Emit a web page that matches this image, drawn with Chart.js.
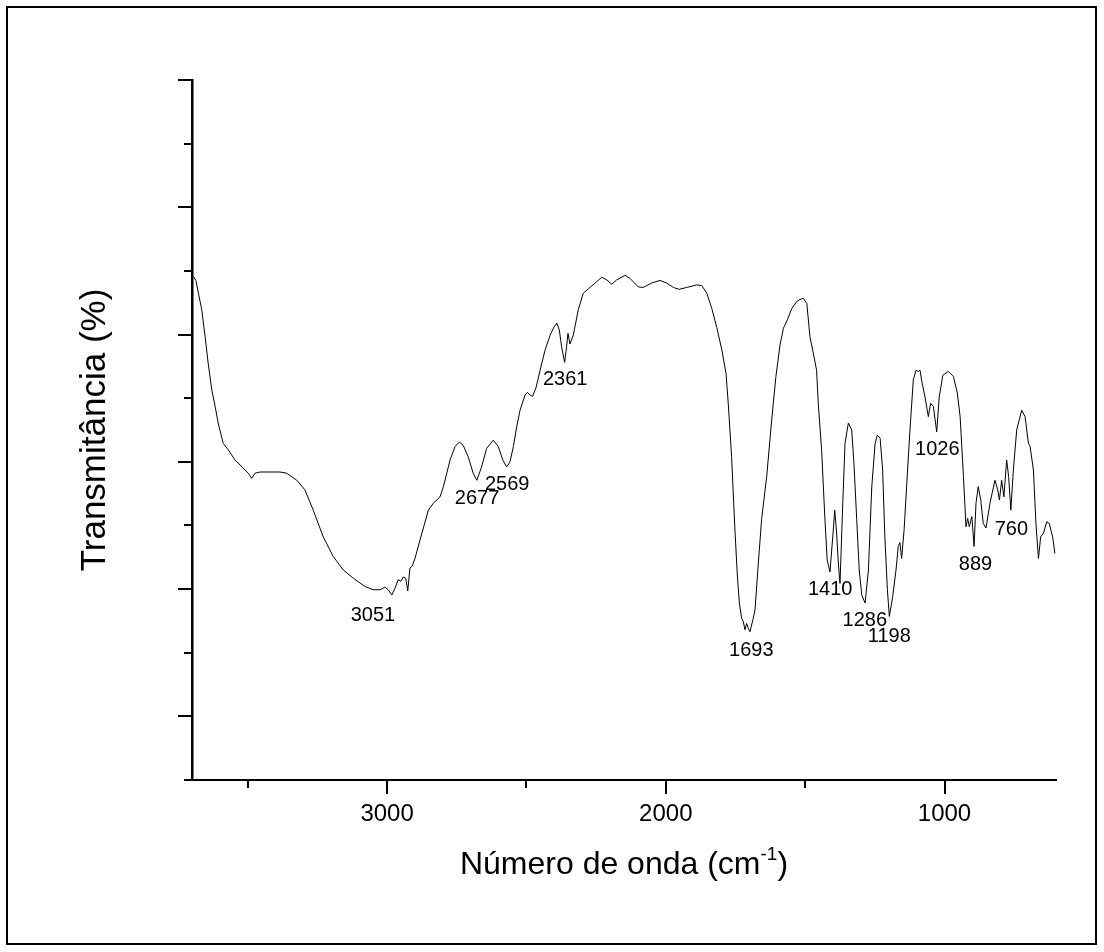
<!DOCTYPE html>
<html>
<head>
<meta charset="utf-8">
<script src="https://cdn.jsdelivr.net/npm/chart.js@4/dist/chart.umd.min.js"></script>
<style>
  html, body { margin: 0; padding: 0; background: #ffffff; }
  canvas { display: block; }
</style>
</head>
<body>
<canvas id="ftir" width="1104" height="952"></canvas>
<script>
// FTIR spectrum: wavenumber (cm-1) and transmittance
const wavenumber = [
  3695, 3686, 3677, 3665, 3653, 3642, 3629, 3617, 3606, 3588, 3570, 3546, 3516, 3498, 3486,
  3474, 3456, 3384, 3360, 3324, 3295, 3265, 3229, 3193, 3157, 3121, 3079, 3050, 3025, 3008,
  2996, 2983, 2972, 2960, 2951, 2942, 2933, 2926, 2918, 2910, 2900, 2882, 2852, 2834, 2810,
  2798, 2774, 2756, 2741, 2727, 2709, 2691, 2678, 2661, 2643, 2619, 2601, 2585, 2571, 2559,
  2547, 2535, 2523, 2505, 2497, 2487, 2478, 2466, 2451, 2433, 2415, 2401, 2391, 2382, 2374,
  2363, 2356, 2351, 2344, 2332, 2314, 2296, 2272, 2248, 2230, 2212, 2194, 2176, 2146, 2128,
  2099, 2081, 2051, 2021, 1997, 1973, 1952, 1925, 1889, 1871,
  1853, 1835, 1817, 1799, 1784, 1776, 1764, 1752, 1743, 1736, 1728, 1722, 1716, 1710, 1704,
  1698, 1688, 1680, 1668, 1656, 1638, 1620, 1605, 1590, 1578, 1564, 1548, 1530, 1519, 1507,
  1494, 1483, 1471, 1459, 1453, 1441, 1429, 1421, 1411, 1401, 1394, 1387, 1381, 1375, 1365,
  1357, 1345, 1333, 1325, 1315, 1306, 1297, 1285, 1273, 1261, 1249, 1241, 1231, 1222, 1214,
  1205, 1198, 1186, 1174, 1166, 1160, 1154, 1145, 1136, 1124, 1112, 1102, 1094, 1088, 1080,
  1070, 1058, 1050, 1040, 1028, 1019, 1006, 986, 968, 954, 944, 932, 923, 917, 911,
  902, 894, 887, 879, 870, 861, 851, 837, 819, 809, 803, 795, 787, 777, 770,
  762, 753, 741, 723, 711, 699, 693, 681, 672, 663, 655, 645, 633, 624, 612, 604
];

const transmittance = [
  79.1, 78.5, 76.5, 73.9, 69.7, 65.5, 61.3, 58.7, 56.1, 52.9, 51.9, 50.3, 49.0, 48.2, 47.4,
  48.2, 48.4, 48.4, 48.2, 47.1, 45.6, 42.4, 38.2, 35.1, 33.0, 31.7, 30.4, 29.9, 29.9, 30.3,
  29.9, 29.1, 30.1, 31.5, 31.2, 31.9, 31.7, 29.7, 33.3, 33.6, 34.8, 37.7, 42.4, 43.5, 44.5,
  46.1, 50.3, 52.4, 53.1, 52.6, 50.8, 48.2, 47.1, 49.2, 52.1, 53.4, 52.4, 50.3, 49.2, 50.0,
  52.4, 55.5, 58.1, 60.5, 60.9, 60.5, 60.3, 61.6, 64.4, 67.6, 69.9, 71.2, 71.8, 70.7, 68.1,
  65.6, 68.1, 70.2, 68.5, 69.9, 73.9, 76.5, 77.4, 78.3, 79.0, 78.6, 77.9, 78.6, 79.3, 78.8,
  77.5, 77.4, 78.1, 78.5, 78.1, 77.4, 77.1, 77.4, 77.8, 77.7,
  76.5, 74.1, 71.1, 67.6, 63.9, 59.2, 50.8, 39.3, 31.9, 27.8, 25.4, 24.9, 23.6, 24.6, 23.8,
  23.3, 25.1, 26.7, 34.1, 41.1, 47.7, 56.6, 63.4, 68.4, 71.0, 72.3, 74.1, 75.2, 75.5, 75.7,
  74.9, 69.7, 67.1, 64.4, 59.2, 51.9, 40.9, 34.6, 32.7, 38.2, 42.4, 38.8, 34.1, 30.9, 43.5,
  52.9, 56.1, 55.0, 49.8, 40.9, 33.0, 29.1, 27.8, 33.0, 46.1, 52.9, 54.2, 53.7, 48.7, 38.2,
  29.9, 25.7, 28.8, 33.0, 36.7, 37.3, 34.8, 39.3, 46.1, 55.0, 62.9, 64.4, 64.2, 64.4, 62.3,
  60.2, 57.1, 59.2, 58.7, 54.7, 60.2, 63.6, 64.2, 63.4, 60.8, 57.1, 47.7, 39.8, 41.1, 39.8,
  41.4, 36.7, 43.5, 46.1, 44.0, 40.3, 39.6, 43.5, 47.1, 45.6, 44.0, 47.1, 44.5, 50.3, 47.7,
  42.4, 48.7, 55.0, 58.1, 57.1, 52.9, 52.4, 48.7, 40.3, 34.8, 38.2, 38.8, 40.6, 40.3, 38.2, 35.6
];

// Axis ticks
const xMajorTicks = [3000, 2000, 1000];
const xMinorTicks = [3500, 2500, 1500];
const yMajorTicks = [110, 90, 70, 50, 30, 10];
const yMinorTicks = [100, 80, 60, 40, 20, 0];

// Band assignments and the height at which each label sits
const peakWavenumbers = [3051, 2677, 2569, 2361, 1693, 1410, 1286, 1198, 1026, 889, 760];
const peakLabelLevels = [25.8, 44.3, 46.5, 62.9, 20.3, 30.0, 25.0, 22.6, 52.0, 33.9, 39.4];

const FONT = '"Liberation Sans", Arial, Helvetica, sans-serif';

// Tick marks (long/short), band labels, x title with superscript and outer frame
const decorations = {
  id: 'decorations',
  afterDraw(chart) {
    const { ctx, chartArea: area } = chart;
    const xs = chart.scales.x;
    const ys = chart.scales.y;
    ctx.save();
    ctx.strokeStyle = '#000';
    ctx.lineWidth = 2;
    const seg = (x1, y1, x2, y2) => {
      ctx.beginPath(); ctx.moveTo(x1, y1); ctx.lineTo(x2, y2); ctx.stroke();
    };
    xMajorTicks.forEach(v => { const p = Math.round(xs.getPixelForValue(v)); seg(p, area.bottom, p, area.bottom + 14); });
    xMinorTicks.forEach(v => { const p = Math.round(xs.getPixelForValue(v)); seg(p, area.bottom, p, area.bottom + 8); });
    yMajorTicks.forEach(v => { const p = Math.round(ys.getPixelForValue(v)); seg(area.left, p, area.left - 14, p); });
    yMinorTicks.forEach(v => { const p = Math.round(ys.getPixelForValue(v)); seg(area.left, p, area.left - 8, p); });

    // band labels
    ctx.fillStyle = '#000';
    ctx.font = '20px ' + FONT;
    ctx.textAlign = 'center';
    ctx.textBaseline = 'middle';
    peakWavenumbers.forEach((w, i) => {
      ctx.fillText(String(w), xs.getPixelForValue(w), ys.getPixelForValue(peakLabelLevels[i]));
    });

    // x axis title: Número de onda (cm^-1)
    const main = 'Número de onda (cm';
    const sup = '-1';
    const close = ')';
    ctx.textAlign = 'left';
    ctx.textBaseline = 'alphabetic';
    ctx.font = '32px ' + FONT;
    const wMain = ctx.measureText(main).width;
    const wClose = ctx.measureText(close).width;
    ctx.font = '19px ' + FONT;
    const wSup = ctx.measureText(sup).width;
    const total = wMain + wSup + wClose;
    let tx = (area.left + area.right) / 2 - total / 2;
    const baseY = 874;
    ctx.font = '32px ' + FONT;
    ctx.fillText(main, tx, baseY);
    tx += wMain;
    ctx.font = '19px ' + FONT;
    ctx.fillText(sup, tx, baseY - 14);
    tx += wSup;
    ctx.font = '32px ' + FONT;
    ctx.fillText(close, tx, baseY);

    // outer frame
    ctx.lineWidth = 2;
    ctx.strokeRect(7, 7, 1089, 937);
    ctx.restore();
  }
};

new Chart(document.getElementById('ftir'), {
  type: 'line',
  data: {
    datasets: [{
      data: wavenumber.map((w, i) => ({ x: w, y: transmittance[i] })),
      borderColor: '#000',
      borderWidth: 1,
      pointRadius: 0,
      tension: 0,
      fill: false
    }]
  },
  options: {
    responsive: false,
    devicePixelRatio: 1,
    animation: false,
    layout: { padding: { top: 80, right: 48, left: 0, bottom: 0 } },
    plugins: { legend: { display: false }, tooltip: { enabled: false } },
    scales: {
      x: {
        type: 'linear',
        reverse: true,
        min: 600,
        max: 3700,
        position: 'bottom',
        afterBuildTicks: s => { s.ticks = xMajorTicks.map(v => ({ value: v })); },
        afterFit: s => { s.height = 172; },
        grid: { display: false, drawTicks: true, tickLength: 14 },
        border: { display: true, color: '#000', width: 2 },
        ticks: {
          callback: v => String(v),
          color: '#000',
          font: { family: FONT, size: 24 },
          padding: 6,
          maxRotation: 0,
          autoSkip: false
        }
      },
      y: {
        type: 'linear',
        min: 0,
        max: 110,
        position: 'left',
        afterFit: s => { s.width = 192; },
        grid: { display: false, drawTicks: true, tickLength: 14 },
        border: { display: true, color: '#000', width: 2.5 },
        ticks: { display: false },
        title: {
          display: true,
          text: 'Transmitância (%)',
          color: '#000',
          font: { family: FONT, size: 35 },
          padding: { top: 74, bottom: 0 }
        }
      }
    }
  },
  plugins: [decorations]
});
</script>
</body>
</html>
